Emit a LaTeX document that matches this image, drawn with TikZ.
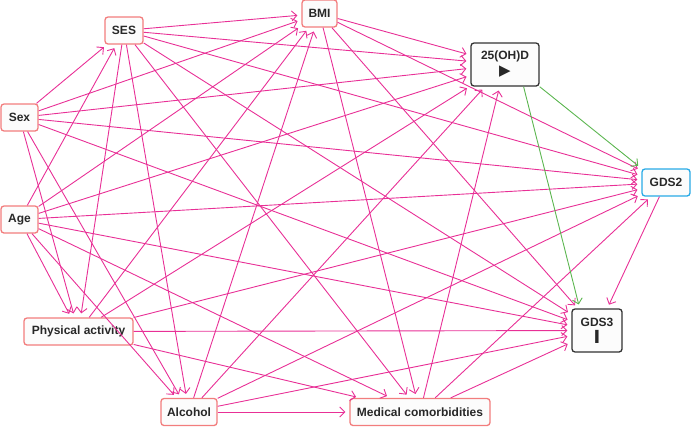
\documentclass[tikz,border=0pt]{standalone}
\usepackage{fontspec}
\setmainfont{Liberation Sans}
\newfontfamily\symfont{DejaVu Sans}
\usetikzlibrary{arrows.meta}
\definecolor{edgepink}{RGB}{232,48,150}
\definecolor{edgegreen}{RGB}{92,182,80}
\definecolor{covborder}{RGB}{242,125,125}
\definecolor{outborder}{RGB}{40,170,230}
\definecolor{keyborder}{RGB}{50,50,50}
\definecolor{txt}{RGB}{40,40,40}
\definecolor{nodefill}{RGB}{252,252,252}
\begin{document}
\begin{tikzpicture}[x=1pt,y=-1pt,
  nodebox/.style={draw, rounded corners=3pt, line width=1.3pt, fill=nodefill, text=txt,
    font=\bfseries\fontsize{12}{13}\selectfont, inner sep=0pt, minimum height=27pt, align=center},
  cov/.style={nodebox, draw=covborder},
  anc/.style={nodebox, draw=outborder},
  key/.style={nodebox, draw=keyborder, minimum height=43pt},
  arr/.style={draw=edgepink, line width=0.9pt, -{Straight Barb[length=5pt,width=10pt]}, shorten >=4pt},
  causal/.style={arr, draw=edgegreen}]
\useasboundingbox (0,0) rectangle (691,426);

\node[cov, minimum width=38pt] (ses) at (124,30.5) {SES};
\node[cov, minimum width=35pt] (bmi) at (319.5,13.5) {BMI};
\node[key, minimum width=68pt] (oh) at (505,64.5) {25(OH)D\\[3pt]{\symfont\fontsize{15}{15}\selectfont ▶}};
\node[cov, minimum width=37pt] (sex) at (19.5,117.5) {Sex};
\node[cov, minimum width=37pt] (age) at (19.5,219.5) {Age};
\node[anc, minimum width=48pt] (gds2) at (666,182.5) {GDS2};
\node[cov, minimum width=109pt] (pa) at (78.5,331.5) {Physical activity};
\node[cov, minimum width=56pt] (alc) at (189,412) {Alcohol};
\node[cov, minimum width=140pt] (mc) at (420,412) {Medical comorbidities};
\node[key, minimum width=50pt] (gds3) at (597,330.5) {GDS3\\[3pt]{\symfont\bfseries\fontsize{18}{16}\selectfont I}};

% Sex
\foreach \t in {ses,bmi,oh,gds2,gds3,pa,alc} \draw[arr] (sex) -- (\t);
% Age
\foreach \t in {ses,bmi,oh,gds2,gds3,pa,alc,mc} \draw[arr] (age) -- (\t);
% SES
\foreach \t in {bmi,oh,gds2,gds3,pa,alc,mc} \draw[arr] (ses) -- (\t);
% BMI
\foreach \t in {oh,gds2,gds3,mc} \draw[arr] (bmi) -- (\t);
% Physical activity
\foreach \t in {bmi,oh,gds2,gds3,mc} \draw[arr] (pa) -- (\t);
% Alcohol
\foreach \t in {bmi,oh,gds2,gds3,mc} \draw[arr] (alc) -- (\t);
% Medical comorbidities
\foreach \t in {oh,gds2,gds3} \draw[arr] (mc) -- (\t);
% GDS2 -> GDS3
\draw[arr] (gds2) -- (gds3);
% exposure -> outcomes
\draw[causal] (oh.south east) -- (gds2.north west);
\draw[causal] (oh.-50) -- (gds3.128);
\end{tikzpicture}
\end{document}
